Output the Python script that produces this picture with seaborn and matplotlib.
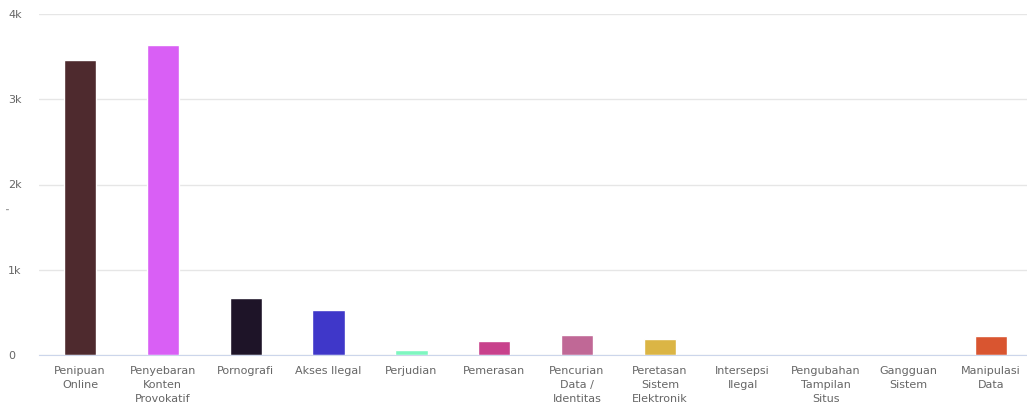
#! /usr/bin/env python3
# -*- coding: utf-8 -*-

import pandas as pd
import matplotlib
matplotlib.use('Agg')
import matplotlib.pyplot as plt
import seaborn as sns
from matplotlib.ticker import FuncFormatter

categories = ['Penipuan\nOnline', 'Penyebaran\nKonten\nProvokatif', 'Pornografi', 'Akses Ilegal',
              'Perjudian', 'Pemerasan', 'Pencurian\nData /\nIdentitas', 'Peretasan\nSistem\nElektronik',
              'Intersepsi\nIlegal', 'Pengubahan\nTampilan\nSitus', 'Gangguan\nSistem', 'Manipulasi\nData']
values = [3460, 3636, 669, 528, 59, 164, 235, 188, 0, 0, 0, 223]
colors = ['#4e2a2e', '#d95ff5', '#1e1428', '#3f37c9', '#7ef7c0', '#c8418c',
          '#c06896', '#dbb545', '#888888', '#888888', '#888888', '#d95530']

df = pd.DataFrame({'Kategori': categories, 'Jumlah': values})

sns.set_style('white')
plt.rcParams['font.family'] = ['DejaVu Sans']

fig = plt.figure(figsize=(10.27, 4.05), dpi=100)
ax = fig.add_axes([38.6/1027, 50/405, 994/1027, 341/405])
sns.barplot(data=df, x='Kategori', y='Jumlah', hue='Kategori', palette=colors,
            legend=False, width=0.39, ax=ax, saturation=1)

ax.set_ylim(0, 4000)
ax.set_yticks([0, 1000, 2000, 3000, 4000])
ax.yaxis.set_major_formatter(FuncFormatter(lambda v, p: '0' if v == 0 else '%dk' % (v/1000)))
ax.grid(axis='y', color='#e6e6e6', linewidth=1)
ax.set_axisbelow(True)
for s in ['top', 'right', 'left']:
    ax.spines[s].set_visible(False)
ax.spines['bottom'].set_color('#ccd6eb')
ax.tick_params(axis='both', length=0, labelsize=8, labelcolor='#666666')
ax.tick_params(axis='x', pad=8)
ax.tick_params(axis='y', pad=22)
for t in ax.get_yticklabels():
    t.set_horizontalalignment('left')
for t in ax.get_xticklabels():
    t.set_linespacing(1.5)
ax.set_xlabel('')
ax.set_ylabel("'", fontsize=7, color='#666666')
ax.yaxis.set_label_coords(-0.024, 0.43)

fig.savefig('out.png', format='png', dpi=100)
plt.close()
